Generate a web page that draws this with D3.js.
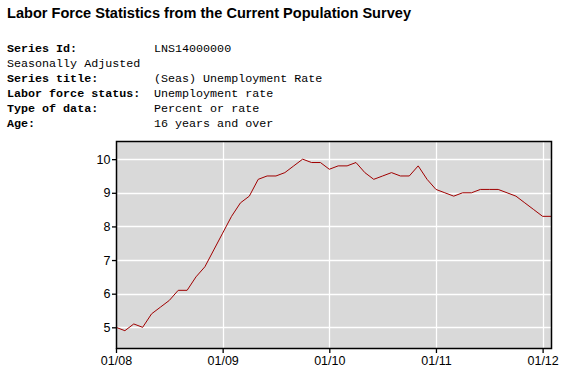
<!DOCTYPE html>
<html>
<head>
<meta charset="utf-8">
<script src="https://cdn.jsdelivr.net/npm/d3@7"></script>
<style>
  body { margin: 0; background: #fff; }
  svg { display: block; }
</style>
</head>
<body>
<div id="chart"></div>
<script>
// monthly unemployment rate, Jan 2008 .. Feb 2012
var rates = [
    5.0, 4.9, 5.1, 5.0, 5.4, 5.6, 5.8, 6.1, 6.1, 6.5, 6.8, 7.3,
    7.8, 8.3, 8.7, 8.9, 9.4, 9.5, 9.5, 9.6, 9.8, 10.0, 9.9, 9.9,
    9.7, 9.8, 9.8, 9.9, 9.6, 9.4, 9.5, 9.6, 9.5, 9.5, 9.8, 9.4,
    9.1, 9.0, 8.9, 9.0, 9.0, 9.1, 9.1, 9.1, 9.0, 8.9, 8.7, 8.5,
    8.3, 8.3
];
var xTickMonths = [0, 12, 24, 36, 48];
var xTickLabels = ['01/08', '01/09', '01/10', '01/11', '01/12'];
var yTicks = [5, 6, 7, 8, 9, 10];

var infoLabels = ['Series Id:', '', 'Series title:', 'Labor force status:', 'Type of data:', 'Age:'];
var infoValues = ['LNS14000000', 'Seasonally Adjusted', '(Seas) Unemployment Rate', 'Unemployment rate', 'Percent or rate', '16 years and over'];

var width = 564, height = 370;
var svg = d3.select('#chart').append('svg')
    .attr('width', width)
    .attr('height', height);

svg.append('text')
   .attr('x', 7)
   .attr('y', 17.5)
   .attr('font-family', 'Liberation Sans, Arial, sans-serif')
   .attr('font-weight', 'bold')
   .attr('font-size', 14.5)
   .attr('textLength', 404)
   .attr('lengthAdjust', 'spacingAndGlyphs')
   .text('Labor Force Statistics from the Current Population Survey');

/* Блок с описанием серии */
var info = svg.append('g')
    .attr('font-family', 'Liberation Mono, Courier New, monospace')
    .attr('font-size', 11.7)
    .attr('fill', '#000');

infoLabels.forEach(function(label, i) {
    var yy = 52 + i * 15;
    if (label)
    {
        info.append('text')
            .attr('x', 7).attr('y', yy)
            .attr('font-weight', 'bold')
            .text(label);
        info.append('text')
            .attr('x', 154).attr('y', yy)
            .text(infoValues[i]);
    }
    else
    {
        info.append('text')
            .attr('x', 7).attr('y', yy)
            .text(infoValues[i]);
    }
});

/* Область графика */
var plotLeft = 116, plotRight = 552, plotTop = 141, plotBottom = 348;

var x = d3.scaleLinear().domain([0, 49]).range([plotLeft, plotRight - 0.5]);
var y = d3.scaleLinear().domain([4.385, 10.54]).range([plotBottom, plotTop]);

svg.append('rect')
   .attr('x', plotLeft).attr('y', plotTop)
   .attr('width', plotRight - plotLeft).attr('height', plotBottom - plotTop)
   .attr('fill', '#d9d9d9');

var grid = svg.append('g').attr('stroke', '#fff').attr('stroke-width', 1.3);
grid.selectAll('line.h')
    .data(yTicks)
    .enter().append('line')
    .attr('class', 'h')
    .attr('x1', plotLeft).attr('x2', plotRight)
    .attr('y1', function(d) { return Math.round(y(d)) + 0.5; })
    .attr('y2', function(d) { return Math.round(y(d)) + 0.5; });
grid.selectAll('line.v')
    .data(xTickMonths.slice(1))
    .enter().append('line')
    .attr('class', 'v')
    .attr('y1', plotTop).attr('y2', plotBottom)
    .attr('x1', function(d) { return Math.round(x(d)) + 0.5; })
    .attr('x2', function(d) { return Math.round(x(d)) + 0.5; });

var line = d3.line()
    .x(function(d, i) { return x(i); })
    .y(function(d) { return y(d); });

svg.append('path')
   .datum(rates)
   .attr('d', line)
   .attr('fill', 'none')
   .attr('stroke', '#a00000')
   .attr('stroke-width', 1);

svg.append('rect')
   .attr('x', plotLeft + 0.5).attr('y', plotTop + 0.5)
   .attr('width', plotRight - plotLeft - 1).attr('height', plotBottom - plotTop)
   .attr('fill', 'none')
   .attr('stroke', '#000')
   .attr('stroke-width', 1.5);

var xAxis = d3.axisBottom(x)
    .tickValues(xTickMonths)
    .tickFormat(function(d, i) { return xTickLabels[i]; })
    .tickSize(5)
    .tickSizeOuter(0);
var gx = svg.append('g')
    .attr('transform', 'translate(0,' + plotBottom + ')')
    .call(xAxis);
gx.select('.domain').remove();

var yAxis = d3.axisLeft(y)
    .tickValues(yTicks)
    .tickFormat(d3.format('d'))
    .tickSize(4)
    .tickSizeOuter(0)
    .tickPadding(1.5);
var gy = svg.append('g')
    .attr('transform', 'translate(' + plotLeft + ',0)')
    .call(yAxis);
gy.select('.domain').remove();

[gx, gy].forEach(function(g) {
    g.selectAll('text')
     .attr('font-family', 'Liberation Sans, Arial, sans-serif')
     .attr('font-size', 12.5)
     .attr('fill', '#000');
    g.selectAll('line').attr('stroke', '#000').attr('stroke-width', 1.3);
});
gx.selectAll('text').attr('dy', '0.71em').attr('y', 8);
</script>
</body>
</html>
